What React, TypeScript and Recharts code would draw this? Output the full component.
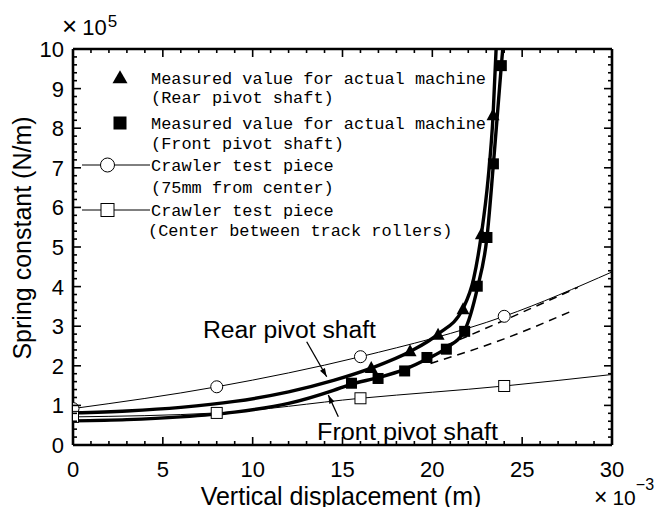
import React from 'react';
import { ComposedChart, Line, Scatter, XAxis, YAxis } from 'recharts';

// Vertical displacement in ×10^-3 m, spring constant in ×10^5 N/m

// Measured values on the actual machine
const rearMeasuredX = [16.6, 18.76, 20.32, 21.71, 22.73, 23.38];
const rearMeasuredY = [1.94, 2.36, 2.78, 3.42, 5.32, 8.32];
const frontMeasuredX = [15.5, 16.98, 18.46, 19.7, 20.78, 21.8, 22.5, 23.04, 23.4, 23.84];
const frontMeasuredY = [1.56, 1.68, 1.87, 2.21, 2.42, 2.87, 4.01, 5.24, 7.1, 9.58];

// Fitted curves (thick lines)
const rearFitX = [0, 3, 6, 9, 12, 14.5, 16.6, 18.76, 20.32, 21.71, 22.3, 22.73, 23.1, 23.38, 23.55];
const rearFitY = [0.81, 0.86, 0.95, 1.1, 1.34, 1.63, 1.94, 2.36, 2.8, 3.45, 4.2, 5.32, 6.7, 8.32, 10];
const frontFitX = [0, 3, 6, 9, 12, 14.5, 15.5, 16.98, 18.46, 19.7, 20.78, 21.8, 22.5, 23.04, 23.4, 23.84, 23.92];
const frontFitY = [0.61, 0.64, 0.71, 0.83, 1.05, 1.38, 1.54, 1.7, 1.91, 2.17, 2.45, 2.9, 3.95, 5.24, 7.1, 9.58, 10];

// Extrapolated trends (dashed)
const upperDashX = [20.8, 24, 28.1];
const upperDashY = [2.52, 3.15, 3.98];
const lowerDashX = [19.9, 24, 27.75];
const lowerDashY = [2.06, 2.68, 3.38];

// Crawler test piece, 75mm from center (open circles)
const pieceOffsetX = [0, 8, 16, 24, 30];
const pieceOffsetY = [0.92, 1.47, 2.23, 3.25, 4.37];
// Crawler test piece, center between track rollers (open squares)
const pieceCenterX = [0, 8, 16, 24, 30];
const pieceCenterY = [0.71, 0.81, 1.18, 1.49, 1.78];
const testPointCount = 4;

// Axis ticks
const xTickLabels = [0, 5, 10, 15, 20, 25, 30];
const yTickLabels = [0, 1, 2, 3, 4, 5, 6, 7, 8, 9, 10];

const pts = (xs: number[], ys: number[]) => xs.map((x, i) => ({ x, y: ys[i] }));

const rearMeasured = pts(rearMeasuredX, rearMeasuredY);
const frontMeasured = pts(frontMeasuredX, frontMeasuredY);
const rearFit = pts(rearFitX, rearFitY);
const frontFit = pts(frontFitX, frontFitY);
const upperDash = pts(upperDashX, upperDashY);
const lowerDash = pts(lowerDashX, lowerDashY);
const pieceOffset = pts(pieceOffsetX, pieceOffsetY);
const pieceCenter = pts(pieceCenterX, pieceCenterY);
const pieceOffsetMarks = pieceOffset.slice(0, testPointCount);
const pieceCenterMarks = pieceCenter.slice(0, testPointCount);

const xTicks = Array.from({ length: 31 }, (_, i) => i);
const yTicks = Array.from({ length: 51 }, (_, i) => Math.round(i * 2) / 10);

const SANS = '"Liberation Sans", Arial, sans-serif';
const MONO = '"Liberation Mono", "DejaVu Sans Mono", monospace';
const TICK_FONT = 22;
const MAJOR = 8;
const MINOR = 4;

const isMajorX = (v: number) => xTickLabels.includes(v);
const isMajorY = (v: number) => yTickLabels.some((t) => Math.abs(t - v) < 1e-6);

const BottomTick = (p: any) => {
  const v = p.payload.value;
  const major = isMajorX(v);
  return (
    <g>
      <line x1={p.x} y1={p.y} x2={p.x} y2={p.y - (major ? MAJOR : MINOR)} stroke="#000" strokeWidth={1.6} />
      {major && (
        <text x={p.x} y={p.y + 32} textAnchor="middle" fontFamily={SANS} fontSize={TICK_FONT} fill="#000">
          {v}
        </text>
      )}
    </g>
  );
};

const TopTick = (p: any) => {
  const major = isMajorX(p.payload.value);
  return <line x1={p.x} y1={p.y} x2={p.x} y2={p.y + (major ? MAJOR : MINOR)} stroke="#000" strokeWidth={1.6} />;
};

const LeftTick = (p: any) => {
  const v = p.payload.value;
  const major = isMajorY(v);
  return (
    <g>
      <line x1={p.x} y1={p.y} x2={p.x + (major ? MAJOR : MINOR)} y2={p.y} stroke="#000" strokeWidth={1.6} />
      {major && (
        <text x={p.x - 9} y={p.y + 8} textAnchor="end" fontFamily={SANS} fontSize={TICK_FONT} fill="#000">
          {Math.round(v)}
        </text>
      )}
    </g>
  );
};

const RightTick = (p: any) => {
  const major = isMajorY(p.payload.value);
  return <line x1={p.x} y1={p.y} x2={p.x - (major ? MAJOR : MINOR)} y2={p.y} stroke="#000" strokeWidth={1.6} />;
};

// Marker shapes
const triPath = (cx: number, cy: number, w: number, h: number) =>
  `M${cx},${cy - h * 0.6} L${cx + w / 2},${cy + h * 0.4} L${cx - w / 2},${cy + h * 0.4} Z`;

const FilledTriangle = (p: any) => <path d={triPath(p.cx, p.cy, 13, 12)} fill="#000" />;
const FilledSquare = (p: any) => <rect x={p.cx - 5.5} y={p.cy - 5.5} width={11} height={11} fill="#000" />;
const OpenCircle = (p: any) => <circle cx={p.cx} cy={p.cy} r={6} fill="#fff" stroke="#000" strokeWidth={1} />;
const OpenSquare = (p: any) => (
  <rect x={p.cx - 5.5} y={p.cy - 5.5} width={11} height={11} fill="#fff" stroke="#000" strokeWidth={1} />
);

const axisLine = { stroke: '#000', strokeWidth: 2.6 };

const CHAR_W = 10.15;
const LegendText = ({ x, y, children }: { x: number; y: number; children: string }) => (
  <text
    x={x}
    y={y + 6}
    fontFamily={MONO}
    fontSize={16.5}
    textLength={children.length * CHAR_W}
    lengthAdjust="spacingAndGlyphs"
    fill="#000"
  >
    {children}
  </text>
);

const Arrow = ({ x1, y1, x2, y2 }: { x1: number; y1: number; x2: number; y2: number }) => {
  const a = Math.atan2(y2 - y1, x2 - x1);
  const L = 9;
  const s = 0.32;
  const p1 = `${x2 - L * Math.cos(a - s)},${y2 - L * Math.sin(a - s)}`;
  const p2 = `${x2 - L * Math.cos(a + s)},${y2 - L * Math.sin(a + s)}`;
  return (
    <g>
      <line x1={x1} y1={y1} x2={x2} y2={y2} stroke="#000" strokeWidth={1.3} />
      <polygon points={`${x2},${y2} ${p1} ${p2}`} fill="#000" />
    </g>
  );
};

export default function App() {
  return (
    <div style={{ position: 'relative', width: 650, height: 499 }}>
      <ComposedChart width={650} height={499} margin={{ top: 11, right: 0, bottom: 32, left: 0 }}>
        <XAxis
          xAxisId="b"
          dataKey="x"
          type="number"
          domain={[0, 30]}
          ticks={xTicks}
          interval={0}
          orientation="bottom"
          height={30}
          tickSize={0}
          tickMargin={0}
          tickLine={false}
          axisLine={axisLine}
          tick={BottomTick}
          allowDataOverflow
        />
        <XAxis
          xAxisId="t"
          dataKey="x"
          type="number"
          domain={[0, 30]}
          ticks={xTicks}
          interval={0}
          orientation="top"
          height={30}
          tickSize={0}
          tickMargin={0}
          tickLine={false}
          axisLine={axisLine}
          tick={TopTick}
          allowDataOverflow
        />
        <YAxis
          yAxisId="l"
          dataKey="y"
          type="number"
          domain={[0, 10]}
          ticks={yTicks}
          interval={0}
          orientation="left"
          width={65}
          tickSize={0}
          tickMargin={0}
          tickLine={false}
          axisLine={axisLine}
          tick={LeftTick}
          allowDataOverflow
        />
        <YAxis
          yAxisId="r"
          dataKey="y"
          type="number"
          domain={[0, 10]}
          ticks={yTicks}
          interval={0}
          orientation="right"
          width={46}
          tickSize={0}
          tickMargin={0}
          tickLine={false}
          axisLine={axisLine}
          tick={RightTick}
          allowDataOverflow
        />

        <Line xAxisId="b" yAxisId="l" data={pieceOffset} dataKey="y" type="monotone" stroke="#000" strokeWidth={1} dot={false} isAnimationActive={false} />
        <Line xAxisId="b" yAxisId="l" data={pieceCenter} dataKey="y" type="monotone" stroke="#000" strokeWidth={1} dot={false} isAnimationActive={false} />
        <Line xAxisId="b" yAxisId="l" data={upperDash} dataKey="y" type="monotone" stroke="#000" strokeWidth={1.5} strokeDasharray="8 6" dot={false} isAnimationActive={false} />
        <Line xAxisId="b" yAxisId="l" data={lowerDash} dataKey="y" type="monotone" stroke="#000" strokeWidth={1.5} strokeDasharray="8 6" dot={false} isAnimationActive={false} />
        <Line xAxisId="b" yAxisId="l" data={rearFit} dataKey="y" type="monotone" stroke="#000" strokeWidth={3.4} dot={false} isAnimationActive={false} />
        <Line xAxisId="b" yAxisId="l" data={frontFit} dataKey="y" type="monotone" stroke="#000" strokeWidth={3.4} dot={false} isAnimationActive={false} />

        <Scatter xAxisId="b" yAxisId="l" data={pieceOffsetMarks} dataKey="y" shape={OpenCircle} isAnimationActive={false} />
        <Scatter xAxisId="b" yAxisId="l" data={pieceCenterMarks} dataKey="y" shape={OpenSquare} isAnimationActive={false} />
        <Scatter xAxisId="b" yAxisId="l" data={frontMeasured} dataKey="y" shape={FilledSquare} isAnimationActive={false} />
        <Scatter xAxisId="b" yAxisId="l" data={rearMeasured} dataKey="y" shape={FilledTriangle} isAnimationActive={false} />
      </ComposedChart>

      <svg
        width={666}
        height={515}
        style={{ position: 'absolute', left: -8, top: -8, pointerEvents: 'none', overflow: 'visible' }}
      >
        {/* axis multipliers */}
        <text x={62} y={35} fontFamily={SANS} fill="#000">
          <tspan fontSize={26}>×</tspan>
          <tspan fontSize={22} dx={5}>10</tspan>
          <tspan fontSize={17} dx={1} dy={-8}>5</tspan>
        </text>
        <text x={594} y={505} fontFamily={SANS} fill="#000">
          <tspan fontSize={23}>×</tspan>
          <tspan fontSize={21} dx={5}>10</tspan>
          <tspan fontSize={16} dx={0} dy={-15}>−3</tspan>
        </text>

        {/* axis titles */}
        <text
          x={31}
          y={238}
          transform="rotate(-90 31 238)"
          textAnchor="middle"
          fontFamily={SANS}
          fontSize={25}
          fill="#000"
        >
          Spring constant (N/m)
        </text>
        <text x={341} y={505} textAnchor="middle" fontFamily={SANS} fontSize={25} fill="#000">
          Vertical displacement (m)
        </text>

        {/* curve annotations */}
        <text x={203} y={337.5} fontFamily={SANS} fontSize={23} textLength={173} lengthAdjust="spacingAndGlyphs" fill="#000">
          Rear pivot shaft
        </text>
        <Arrow x1={306.7} y1={341.7} x2={326.7} y2={376.7} />
        <text x={317} y={440} fontFamily={SANS} fontSize={23} textLength={181} lengthAdjust="spacingAndGlyphs" fill="#000">
          Front pivot shaft
        </text>
        <Arrow x1={338.3} y1={416.7} x2={328.3} y2={395} />

        {/* legend */}
        <path d={triPath(120, 78, 15, 13)} fill="#000" />
        <LegendText x={151} y={78}>Measured value for actual machine</LegendText>
        <LegendText x={151} y={97}>(Rear pivot shaft)</LegendText>
        <rect x={113.5} y={116.5} width={13} height={13} fill="#000" />
        <LegendText x={151} y={123}>Measured value for actual machine</LegendText>
        <LegendText x={151} y={143}>(Front pivot shaft)</LegendText>
        <line x1={82} y1={165} x2={150} y2={165} stroke="#000" strokeWidth={1} />
        <circle cx={107.5} cy={165} r={7} fill="#fff" stroke="#000" strokeWidth={1} />
        <LegendText x={151} y={165}>Crawler test piece</LegendText>
        <LegendText x={151} y={187}>(75mm from center)</LegendText>
        <line x1={82} y1={210} x2={150} y2={210} stroke="#000" strokeWidth={1} />
        <rect x={101} y={203.5} width={13} height={13} fill="#fff" stroke="#000" strokeWidth={1} />
        <LegendText x={151} y={210}>Crawler test piece</LegendText>
        <LegendText x={148} y={230}>(Center between track rollers)</LegendText>
      </svg>
    </div>
  );
}
